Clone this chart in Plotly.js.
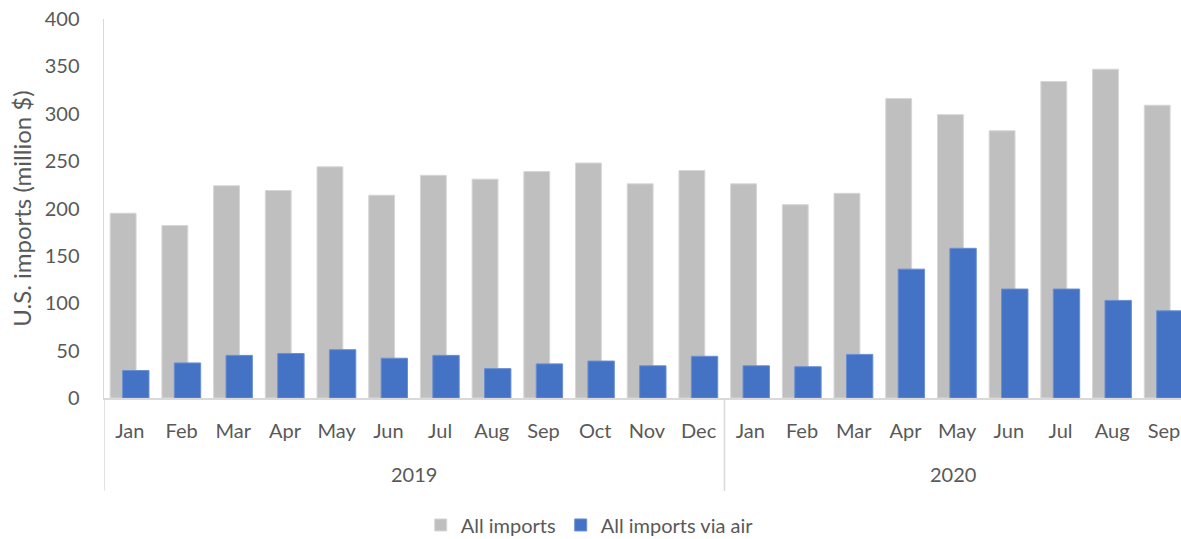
<!DOCTYPE html>
<html>
<head>
<meta charset="utf-8">
<script src="https://cdn.plot.ly/plotly-3.0.1.min.js"></script>
<style>html,body{margin:0;padding:0;background:#fff;}#chart{width:1181px;height:539px;}</style>
</head>
<body>
<div id="chart"></div>
<script>
const months = ["Jan","Feb","Mar","Apr","May","Jun","Jul","Aug","Sep","Oct","Nov","Dec","Jan","Feb","Mar","Apr","May","Jun","Jul","Aug","Sep"];
const years = ["2019","2020"];
const yearCounts = [12, 9];
const allImports = [195,182,224,219,244,214,235,231,239,248,226,240,226,204,216,316,299,282,334,347,309];
const airImports = [29,37,45,47,51,42,45,31,36,39,34,44,34,33,46,136,158,115,115,103,92];
const yTicks = [0,50,100,150,200,250,300,350,400];

const idx = months.map((m,i)=>i);
const txt = '#595959';
const FONT = 'Lato, "Open Sans", sans-serif';
const FS = 20;

const traces = [
  {type:'bar', name:'All imports', x:idx, y:allImports, width:0.5, offset:-0.38,
   marker:{color:'#bfbfbf', line:{color:'#d6d6d6', width:1}}, hoverinfo:'y'},
  {type:'bar', name:'All imports via air', x:idx, y:airImports, width:0.51, offset:-0.14,
   marker:{color:'#4472c4', line:{color:'#6a8fd3', width:1}}, hoverinfo:'y'}
];

const annotations = [];
const shapes = [];
let start = 0;
years.forEach((yr,k)=>{
  const n = yearCounts[k];
  const left = start - 0.5, right = start + n - 0.5;
  const mid = k === years.length - 1 ? (left + 20.33) / 2 : (left + right) / 2;
  annotations.push({x:mid, xref:'x', y:-0.2, yref:'paper', text:yr, showarrow:false,
    font:{family:FONT, size:FS, color:txt}, yanchor:'middle'});
  shapes.push({type:'line', xref:'x', yref:'paper', x0:left, x1:left, y0:0, y1:-0.245,
    line:{color:'#d9d9d9', width:1.5}});
  start += n;
});

const layout = {
  width:1181, height:539, autosize:false,
  margin:{l:104, r:0, t:19, b:141, autoexpand:false},
  paper_bgcolor:'#fff', plot_bgcolor:'#fff',
  barmode:'overlay',
  showlegend:true,
  legend:{orientation:'h', x:0.451, xanchor:'center', y:-0.335, yanchor:'middle',
    font:{family:FONT, size:FS, color:txt}, traceorder:'normal'},
  xaxis:{range:[-0.5, 20.33], tickmode:'array', tickvals:idx, ticktext:months, tickangle:0,
    showgrid:false, zeroline:false, showline:true, linecolor:'#d9d9d9', linewidth:1.5,
    ticks:'', ticklabelstandoff:14, tickfont:{family:FONT, size:FS, color:txt}, automargin:false},
  yaxis:{range:[0,400], tickmode:'array', tickvals:yTicks, showgrid:false, zeroline:false,
    showline:true, linecolor:'#d9d9d9', linewidth:1.5, ticks:'', ticklabelstandoff:19, automargin:false,
    tickfont:{family:FONT, size:FS, color:txt},
    title:{text:'U.S. imports (million $)', font:{family:FONT, size:24, color:txt}, standoff:6}},
  annotations:annotations,
  shapes:shapes
};

Plotly.newPlot('chart', traces, layout, {displayModeBar:false, staticPlot:true});
</script>
</body>
</html>
